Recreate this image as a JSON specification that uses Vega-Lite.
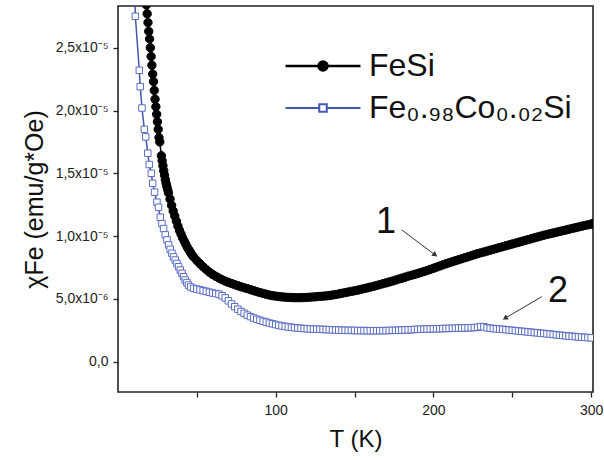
{
  "$schema": "https://vega.github.io/schema/vega-lite/v6.json",
  "width": 475,
  "height": 386,
  "autosize": "none",
  "padding": {"left": 118, "top": 6, "right": 11, "bottom": 68},
  "background": "white",
  "config": {"view": {"stroke": "#222", "strokeWidth": 1.6}, "font": "Liberation Sans"},
  "datasets": {
    "curves": [
      {"series":"FeSi","T":16,"chi":31.2},{"series":"FeSi","T":17,"chi":29.8},{"series":"FeSi","T":17.5,"chi":29.1},{"series":"FeSi","T":18,"chi":28.4},{"series":"FeSi","T":18.5,"chi":27.7},{"series":"FeSi","T":19,"chi":27.0},{"series":"FeSi","T":19.5,"chi":26.3},{"series":"FeSi","T":20,"chi":25.7},{"series":"FeSi","T":20.5,"chi":25.0},{"series":"FeSi","T":21,"chi":24.3},{"series":"FeSi","T":21.5,"chi":23.6},{"series":"FeSi","T":22,"chi":22.9},{"series":"FeSi","T":22.5,"chi":22.3},{"series":"FeSi","T":23,"chi":21.6},{"series":"FeSi","T":23.5,"chi":20.9},{"series":"FeSi","T":24,"chi":20.3},{"series":"FeSi","T":24.5,"chi":19.7},{"series":"FeSi","T":25,"chi":19.1},{"series":"FeSi","T":25.5,"chi":18.5},{"series":"FeSi","T":26,"chi":17.85},{"series":"FeSi","T":26.5,"chi":17.5},
      {"series":"FeSi","T":27.5,"chi":16.4},{"series":"FeSi","T":28,"chi":16.0},{"series":"FeSi","T":28.5,"chi":15.6},{"series":"FeSi","T":29,"chi":15.2},{"series":"FeSi","T":29.5,"chi":14.85},{"series":"FeSi","T":30,"chi":14.5},{"series":"FeSi","T":30.5,"chi":14.2},{"series":"FeSi","T":31,"chi":13.95},{"series":"FeSi","T":31.5,"chi":13.7},{"series":"FeSi","T":32,"chi":13.45},{"series":"FeSi","T":33,"chi":12.95},{"series":"FeSi","T":34,"chi":12.45},{"series":"FeSi","T":35,"chi":12.0},{"series":"FeSi","T":36,"chi":11.6},{"series":"FeSi","T":37,"chi":11.2},{"series":"FeSi","T":38,"chi":10.8},{"series":"FeSi","T":39,"chi":10.45},{"series":"FeSi","T":40,"chi":10.15},{"series":"FeSi","T":41,"chi":9.85},{"series":"FeSi","T":42,"chi":9.6},{"series":"FeSi","T":43,"chi":9.35},{"series":"FeSi","T":44,"chi":9.1},{"series":"FeSi","T":45,"chi":8.9},{"series":"FeSi","T":46,"chi":8.7},{"series":"FeSi","T":47,"chi":8.5},{"series":"FeSi","T":48,"chi":8.33},
      {"series":"FeSi","T":50,"chi":8.05},{"series":"FeSi","T":52,"chi":7.8},{"series":"FeSi","T":54,"chi":7.55},{"series":"FeSi","T":56,"chi":7.33},{"series":"FeSi","T":58,"chi":7.13},{"series":"FeSi","T":60,"chi":6.95},{"series":"FeSi","T":62,"chi":6.8},{"series":"FeSi","T":64,"chi":6.66},{"series":"FeSi","T":66,"chi":6.53},{"series":"FeSi","T":68,"chi":6.42},{"series":"FeSi","T":70,"chi":6.32},{"series":"FeSi","T":72,"chi":6.23},{"series":"FeSi","T":74,"chi":6.14},{"series":"FeSi","T":76,"chi":6.05},{"series":"FeSi","T":78,"chi":5.97},{"series":"FeSi","T":80,"chi":5.89},{"series":"FeSi","T":82,"chi":5.82},{"series":"FeSi","T":84,"chi":5.74},{"series":"FeSi","T":86,"chi":5.66},{"series":"FeSi","T":88,"chi":5.58},{"series":"FeSi","T":90,"chi":5.51},{"series":"FeSi","T":92,"chi":5.44},{"series":"FeSi","T":94,"chi":5.37},{"series":"FeSi","T":96,"chi":5.31},{"series":"FeSi","T":98,"chi":5.26},{"series":"FeSi","T":100,"chi":5.22},{"series":"FeSi","T":102,"chi":5.19},{"series":"FeSi","T":104,"chi":5.16},{"series":"FeSi","T":106,"chi":5.14},{"series":"FeSi","T":108,"chi":5.12},{"series":"FeSi","T":110,"chi":5.11},{"series":"FeSi","T":112,"chi":5.1},{"series":"FeSi","T":114,"chi":5.1},{"series":"FeSi","T":116,"chi":5.1},{"series":"FeSi","T":118,"chi":5.11},{"series":"FeSi","T":120,"chi":5.12},{"series":"FeSi","T":122,"chi":5.14},{"series":"FeSi","T":124,"chi":5.16},{"series":"FeSi","T":126,"chi":5.18},{"series":"FeSi","T":128,"chi":5.2},{"series":"FeSi","T":130,"chi":5.22},{"series":"FeSi","T":132,"chi":5.24},{"series":"FeSi","T":134,"chi":5.27},{"series":"FeSi","T":136,"chi":5.31},{"series":"FeSi","T":138,"chi":5.35},{"series":"FeSi","T":140,"chi":5.4},{"series":"FeSi","T":142,"chi":5.45},{"series":"FeSi","T":144,"chi":5.5},{"series":"FeSi","T":146,"chi":5.55},{"series":"FeSi","T":148,"chi":5.6},{"series":"FeSi","T":150,"chi":5.65},{"series":"FeSi","T":152,"chi":5.7},{"series":"FeSi","T":154,"chi":5.76},{"series":"FeSi","T":156,"chi":5.82},{"series":"FeSi","T":158,"chi":5.88},{"series":"FeSi","T":160,"chi":5.94},{"series":"FeSi","T":162,"chi":6.0},{"series":"FeSi","T":164,"chi":6.07},{"series":"FeSi","T":166,"chi":6.14},{"series":"FeSi","T":168,"chi":6.21},{"series":"FeSi","T":170,"chi":6.28},{"series":"FeSi","T":172,"chi":6.35},{"series":"FeSi","T":174,"chi":6.42},{"series":"FeSi","T":176,"chi":6.5},{"series":"FeSi","T":178,"chi":6.58},{"series":"FeSi","T":180,"chi":6.65},{"series":"FeSi","T":182,"chi":6.73},{"series":"FeSi","T":184,"chi":6.81},{"series":"FeSi","T":186,"chi":6.88},{"series":"FeSi","T":188,"chi":6.95},{"series":"FeSi","T":190,"chi":7.02},{"series":"FeSi","T":192,"chi":7.1},{"series":"FeSi","T":194,"chi":7.18},{"series":"FeSi","T":196,"chi":7.26},{"series":"FeSi","T":198,"chi":7.35},{"series":"FeSi","T":200,"chi":7.44},{"series":"FeSi","T":202,"chi":7.53},{"series":"FeSi","T":204,"chi":7.62},{"series":"FeSi","T":206,"chi":7.71},{"series":"FeSi","T":208,"chi":7.8},{"series":"FeSi","T":210,"chi":7.88},{"series":"FeSi","T":212,"chi":7.96},{"series":"FeSi","T":214,"chi":8.04},{"series":"FeSi","T":216,"chi":8.12},{"series":"FeSi","T":218,"chi":8.2},{"series":"FeSi","T":220,"chi":8.28},{"series":"FeSi","T":222,"chi":8.36},{"series":"FeSi","T":224,"chi":8.44},{"series":"FeSi","T":226,"chi":8.52},{"series":"FeSi","T":228,"chi":8.6},{"series":"FeSi","T":230,"chi":8.67},{"series":"FeSi","T":232,"chi":8.74},{"series":"FeSi","T":234,"chi":8.81},{"series":"FeSi","T":236,"chi":8.88},{"series":"FeSi","T":238,"chi":8.95},{"series":"FeSi","T":240,"chi":9.02},{"series":"FeSi","T":242,"chi":9.09},{"series":"FeSi","T":244,"chi":9.16},{"series":"FeSi","T":246,"chi":9.23},{"series":"FeSi","T":248,"chi":9.3},{"series":"FeSi","T":250,"chi":9.37},{"series":"FeSi","T":252,"chi":9.44},{"series":"FeSi","T":254,"chi":9.51},{"series":"FeSi","T":256,"chi":9.58},{"series":"FeSi","T":258,"chi":9.65},{"series":"FeSi","T":260,"chi":9.72},{"series":"FeSi","T":262,"chi":9.79},{"series":"FeSi","T":264,"chi":9.86},{"series":"FeSi","T":266,"chi":9.93},{"series":"FeSi","T":268,"chi":10.0},{"series":"FeSi","T":270,"chi":10.07},{"series":"FeSi","T":272,"chi":10.13},{"series":"FeSi","T":274,"chi":10.19},{"series":"FeSi","T":276,"chi":10.25},{"series":"FeSi","T":278,"chi":10.31},{"series":"FeSi","T":280,"chi":10.37},{"series":"FeSi","T":282,"chi":10.43},{"series":"FeSi","T":284,"chi":10.49},{"series":"FeSi","T":286,"chi":10.55},{"series":"FeSi","T":288,"chi":10.61},{"series":"FeSi","T":290,"chi":10.67},{"series":"FeSi","T":292,"chi":10.73},{"series":"FeSi","T":294,"chi":10.79},{"series":"FeSi","T":296,"chi":10.85},{"series":"FeSi","T":298,"chi":10.9},{"series":"FeSi","T":300,"chi":10.95},{"series":"FeSi","T":301,"chi":11.0},
      {"series":"Fe₀.₉₈Co₀.₀₂Si","T":10.5,"chi":31.0},{"series":"Fe₀.₉₈Co₀.₀₂Si","T":11.0,"chi":27.5},{"series":"Fe₀.₉₈Co₀.₀₂Si","T":13.5,"chi":23.2},{"series":"Fe₀.₉₈Co₀.₀₂Si","T":14.1,"chi":21.9},{"series":"Fe₀.₉₈Co₀.₀₂Si","T":15.2,"chi":20.2},{"series":"Fe₀.₉₈Co₀.₀₂Si","T":16.7,"chi":18.5},{"series":"Fe₀.₉₈Co₀.₀₂Si","T":17.6,"chi":17.9},{"series":"Fe₀.₉₈Co₀.₀₂Si","T":18.9,"chi":16.6},{"series":"Fe₀.₉₈Co₀.₀₂Si","T":19.8,"chi":15.7},{"series":"Fe₀.₉₈Co₀.₀₂Si","T":21.1,"chi":15.0},{"series":"Fe₀.₉₈Co₀.₀₂Si","T":22.0,"chi":14.2},{"series":"Fe₀.₉₈Co₀.₀₂Si","T":23.2,"chi":13.5},{"series":"Fe₀.₉₈Co₀.₀₂Si","T":24.7,"chi":12.7},{"series":"Fe₀.₉₈Co₀.₀₂Si","T":25.7,"chi":12.3},{"series":"Fe₀.₉₈Co₀.₀₂Si","T":26.8,"chi":11.5},{"series":"Fe₀.₉₈Co₀.₀₂Si","T":27.9,"chi":11.0},{"series":"Fe₀.₉₈Co₀.₀₂Si","T":28.9,"chi":10.6},{"series":"Fe₀.₉₈Co₀.₀₂Si","T":30.0,"chi":10.1},{"series":"Fe₀.₉₈Co₀.₀₂Si","T":31.1,"chi":9.7},{"series":"Fe₀.₉₈Co₀.₀₂Si","T":32.1,"chi":9.3},{"series":"Fe₀.₉₈Co₀.₀₂Si","T":33.1,"chi":8.95},{"series":"Fe₀.₉₈Co₀.₀₂Si","T":34.2,"chi":8.63},{"series":"Fe₀.₉₈Co₀.₀₂Si","T":35.2,"chi":8.35},{"series":"Fe₀.₉₈Co₀.₀₂Si","T":36.3,"chi":8.1},{"series":"Fe₀.₉₈Co₀.₀₂Si","T":37.4,"chi":7.82},{"series":"Fe₀.₉₈Co₀.₀₂Si","T":38.4,"chi":7.56},{"series":"Fe₀.₉₈Co₀.₀₂Si","T":39.5,"chi":7.3},{"series":"Fe₀.₉₈Co₀.₀₂Si","T":40.6,"chi":7.04},{"series":"Fe₀.₉₈Co₀.₀₂Si","T":41.6,"chi":6.77},{"series":"Fe₀.₉₈Co₀.₀₂Si","T":42.6,"chi":6.5},{"series":"Fe₀.₉₈Co₀.₀₂Si","T":43.7,"chi":6.3},{"series":"Fe₀.₉₈Co₀.₀₂Si","T":44.7,"chi":6.1},{"series":"Fe₀.₉₈Co₀.₀₂Si","T":46.1,"chi":5.95},{"series":"Fe₀.₉₈Co₀.₀₂Si","T":47.9,"chi":5.84},
      {"series":"Fe₀.₉₈Co₀.₀₂Si","T":50,"chi":5.78},{"series":"Fe₀.₉₈Co₀.₀₂Si","T":52,"chi":5.72},{"series":"Fe₀.₉₈Co₀.₀₂Si","T":54,"chi":5.66},{"series":"Fe₀.₉₈Co₀.₀₂Si","T":56,"chi":5.6},{"series":"Fe₀.₉₈Co₀.₀₂Si","T":58,"chi":5.53},{"series":"Fe₀.₉₈Co₀.₀₂Si","T":60,"chi":5.47},{"series":"Fe₀.₉₈Co₀.₀₂Si","T":62,"chi":5.43},{"series":"Fe₀.₉₈Co₀.₀₂Si","T":64,"chi":5.38},{"series":"Fe₀.₉₈Co₀.₀₂Si","T":66,"chi":5.25},{"series":"Fe₀.₉₈Co₀.₀₂Si","T":68,"chi":5.08},{"series":"Fe₀.₉₈Co₀.₀₂Si","T":70,"chi":4.85},{"series":"Fe₀.₉₈Co₀.₀₂Si","T":72,"chi":4.6},{"series":"Fe₀.₉₈Co₀.₀₂Si","T":74,"chi":4.38},{"series":"Fe₀.₉₈Co₀.₀₂Si","T":76,"chi":4.18},{"series":"Fe₀.₉₈Co₀.₀₂Si","T":78,"chi":4.0},{"series":"Fe₀.₉₈Co₀.₀₂Si","T":80,"chi":3.85},{"series":"Fe₀.₉₈Co₀.₀₂Si","T":82,"chi":3.71},{"series":"Fe₀.₉₈Co₀.₀₂Si","T":84,"chi":3.59},{"series":"Fe₀.₉₈Co₀.₀₂Si","T":86,"chi":3.48},{"series":"Fe₀.₉₈Co₀.₀₂Si","T":88,"chi":3.38},{"series":"Fe₀.₉₈Co₀.₀₂Si","T":90,"chi":3.3},{"series":"Fe₀.₉₈Co₀.₀₂Si","T":92,"chi":3.22},{"series":"Fe₀.₉₈Co₀.₀₂Si","T":94,"chi":3.15},{"series":"Fe₀.₉₈Co₀.₀₂Si","T":96,"chi":3.08},{"series":"Fe₀.₉₈Co₀.₀₂Si","T":98,"chi":3.02},{"series":"Fe₀.₉₈Co₀.₀₂Si","T":100,"chi":2.96},{"series":"Fe₀.₉₈Co₀.₀₂Si","T":102,"chi":2.9},{"series":"Fe₀.₉₈Co₀.₀₂Si","T":104,"chi":2.85},{"series":"Fe₀.₉₈Co₀.₀₂Si","T":106,"chi":2.81},{"series":"Fe₀.₉₈Co₀.₀₂Si","T":108,"chi":2.77},{"series":"Fe₀.₉₈Co₀.₀₂Si","T":110,"chi":2.74},{"series":"Fe₀.₉₈Co₀.₀₂Si","T":112,"chi":2.71},{"series":"Fe₀.₉₈Co₀.₀₂Si","T":114,"chi":2.68},{"series":"Fe₀.₉₈Co₀.₀₂Si","T":116,"chi":2.66},{"series":"Fe₀.₉₈Co₀.₀₂Si","T":118,"chi":2.64},{"series":"Fe₀.₉₈Co₀.₀₂Si","T":120,"chi":2.62},{"series":"Fe₀.₉₈Co₀.₀₂Si","T":122,"chi":2.61},{"series":"Fe₀.₉₈Co₀.₀₂Si","T":124,"chi":2.6},{"series":"Fe₀.₉₈Co₀.₀₂Si","T":126,"chi":2.59},{"series":"Fe₀.₉₈Co₀.₀₂Si","T":128,"chi":2.58},{"series":"Fe₀.₉₈Co₀.₀₂Si","T":130,"chi":2.57},{"series":"Fe₀.₉₈Co₀.₀₂Si","T":132,"chi":2.56},{"series":"Fe₀.₉₈Co₀.₀₂Si","T":134,"chi":2.55},{"series":"Fe₀.₉₈Co₀.₀₂Si","T":136,"chi":2.54},{"series":"Fe₀.₉₈Co₀.₀₂Si","T":138,"chi":2.53},{"series":"Fe₀.₉₈Co₀.₀₂Si","T":140,"chi":2.52},{"series":"Fe₀.₉₈Co₀.₀₂Si","T":142,"chi":2.51},{"series":"Fe₀.₉₈Co₀.₀₂Si","T":144,"chi":2.5},{"series":"Fe₀.₉₈Co₀.₀₂Si","T":146,"chi":2.5},{"series":"Fe₀.₉₈Co₀.₀₂Si","T":148,"chi":2.49},{"series":"Fe₀.₉₈Co₀.₀₂Si","T":150,"chi":2.49},{"series":"Fe₀.₉₈Co₀.₀₂Si","T":152,"chi":2.48},{"series":"Fe₀.₉₈Co₀.₀₂Si","T":154,"chi":2.48},{"series":"Fe₀.₉₈Co₀.₀₂Si","T":156,"chi":2.48},{"series":"Fe₀.₉₈Co₀.₀₂Si","T":158,"chi":2.47},{"series":"Fe₀.₉₈Co₀.₀₂Si","T":160,"chi":2.47},{"series":"Fe₀.₉₈Co₀.₀₂Si","T":162,"chi":2.47},{"series":"Fe₀.₉₈Co₀.₀₂Si","T":164,"chi":2.47},{"series":"Fe₀.₉₈Co₀.₀₂Si","T":166,"chi":2.47},{"series":"Fe₀.₉₈Co₀.₀₂Si","T":168,"chi":2.48},{"series":"Fe₀.₉₈Co₀.₀₂Si","T":170,"chi":2.48},{"series":"Fe₀.₉₈Co₀.₀₂Si","T":172,"chi":2.49},{"series":"Fe₀.₉₈Co₀.₀₂Si","T":174,"chi":2.5},{"series":"Fe₀.₉₈Co₀.₀₂Si","T":176,"chi":2.5},{"series":"Fe₀.₉₈Co₀.₀₂Si","T":178,"chi":2.51},{"series":"Fe₀.₉₈Co₀.₀₂Si","T":180,"chi":2.52},{"series":"Fe₀.₉₈Co₀.₀₂Si","T":182,"chi":2.53},{"series":"Fe₀.₉₈Co₀.₀₂Si","T":184,"chi":2.54},{"series":"Fe₀.₉₈Co₀.₀₂Si","T":186,"chi":2.55},{"series":"Fe₀.₉₈Co₀.₀₂Si","T":188,"chi":2.57},{"series":"Fe₀.₉₈Co₀.₀₂Si","T":190,"chi":2.58},{"series":"Fe₀.₉₈Co₀.₀₂Si","T":192,"chi":2.59},{"series":"Fe₀.₉₈Co₀.₀₂Si","T":194,"chi":2.6},{"series":"Fe₀.₉₈Co₀.₀₂Si","T":196,"chi":2.6},{"series":"Fe₀.₉₈Co₀.₀₂Si","T":198,"chi":2.61},{"series":"Fe₀.₉₈Co₀.₀₂Si","T":200,"chi":2.62},{"series":"Fe₀.₉₈Co₀.₀₂Si","T":202,"chi":2.62},{"series":"Fe₀.₉₈Co₀.₀₂Si","T":204,"chi":2.63},{"series":"Fe₀.₉₈Co₀.₀₂Si","T":206,"chi":2.64},{"series":"Fe₀.₉₈Co₀.₀₂Si","T":208,"chi":2.65},{"series":"Fe₀.₉₈Co₀.₀₂Si","T":210,"chi":2.65},{"series":"Fe₀.₉₈Co₀.₀₂Si","T":212,"chi":2.66},{"series":"Fe₀.₉₈Co₀.₀₂Si","T":214,"chi":2.67},{"series":"Fe₀.₉₈Co₀.₀₂Si","T":216,"chi":2.68},{"series":"Fe₀.₉₈Co₀.₀₂Si","T":218,"chi":2.68},{"series":"Fe₀.₉₈Co₀.₀₂Si","T":220,"chi":2.69},{"series":"Fe₀.₉₈Co₀.₀₂Si","T":222,"chi":2.7},{"series":"Fe₀.₉₈Co₀.₀₂Si","T":224,"chi":2.71},{"series":"Fe₀.₉₈Co₀.₀₂Si","T":226,"chi":2.72},{"series":"Fe₀.₉₈Co₀.₀₂Si","T":228,"chi":2.74},{"series":"Fe₀.₉₈Co₀.₀₂Si","T":230,"chi":2.8},{"series":"Fe₀.₉₈Co₀.₀₂Si","T":232,"chi":2.78},{"series":"Fe₀.₉₈Co₀.₀₂Si","T":234,"chi":2.7},{"series":"Fe₀.₉₈Co₀.₀₂Si","T":236,"chi":2.67},{"series":"Fe₀.₉₈Co₀.₀₂Si","T":238,"chi":2.64},{"series":"Fe₀.₉₈Co₀.₀₂Si","T":240,"chi":2.62},{"series":"Fe₀.₉₈Co₀.₀₂Si","T":242,"chi":2.6},{"series":"Fe₀.₉₈Co₀.₀₂Si","T":244,"chi":2.58},{"series":"Fe₀.₉₈Co₀.₀₂Si","T":246,"chi":2.55},{"series":"Fe₀.₉₈Co₀.₀₂Si","T":248,"chi":2.52},{"series":"Fe₀.₉₈Co₀.₀₂Si","T":250,"chi":2.5},{"series":"Fe₀.₉₈Co₀.₀₂Si","T":252,"chi":2.47},{"series":"Fe₀.₉₈Co₀.₀₂Si","T":254,"chi":2.45},{"series":"Fe₀.₉₈Co₀.₀₂Si","T":256,"chi":2.42},{"series":"Fe₀.₉₈Co₀.₀₂Si","T":258,"chi":2.4},{"series":"Fe₀.₉₈Co₀.₀₂Si","T":260,"chi":2.37},{"series":"Fe₀.₉₈Co₀.₀₂Si","T":262,"chi":2.35},{"series":"Fe₀.₉₈Co₀.₀₂Si","T":264,"chi":2.32},{"series":"Fe₀.₉₈Co₀.₀₂Si","T":266,"chi":2.3},{"series":"Fe₀.₉₈Co₀.₀₂Si","T":268,"chi":2.27},{"series":"Fe₀.₉₈Co₀.₀₂Si","T":270,"chi":2.25},{"series":"Fe₀.₉₈Co₀.₀₂Si","T":272,"chi":2.22},{"series":"Fe₀.₉₈Co₀.₀₂Si","T":274,"chi":2.2},{"series":"Fe₀.₉₈Co₀.₀₂Si","T":276,"chi":2.17},{"series":"Fe₀.₉₈Co₀.₀₂Si","T":278,"chi":2.14},{"series":"Fe₀.₉₈Co₀.₀₂Si","T":280,"chi":2.11},{"series":"Fe₀.₉₈Co₀.₀₂Si","T":282,"chi":2.09},{"series":"Fe₀.₉₈Co₀.₀₂Si","T":284,"chi":2.06},{"series":"Fe₀.₉₈Co₀.₀₂Si","T":286,"chi":2.04},{"series":"Fe₀.₉₈Co₀.₀₂Si","T":288,"chi":2.02},{"series":"Fe₀.₉₈Co₀.₀₂Si","T":290,"chi":2.0},{"series":"Fe₀.₉₈Co₀.₀₂Si","T":292,"chi":1.98},{"series":"Fe₀.₉₈Co₀.₀₂Si","T":294,"chi":1.96},{"series":"Fe₀.₉₈Co₀.₀₂Si","T":296,"chi":1.94},{"series":"Fe₀.₉₈Co₀.₀₂Si","T":298,"chi":1.92},{"series":"Fe₀.₉₈Co₀.₀₂Si","T":300,"chi":1.9}
    ],
    "notes": [
      {"label": "1", "T": 170, "chi": 11.12},
      {"label": "2", "T": 279, "chi": 5.63}
    ],
    "arrows": [
      {"id": 1, "T": 180, "chi": 10.49, "T2": 201.1, "chi2": 8.5},
      {"id": 2, "T": 268.7, "chi": 5.18, "T2": 245.4, "chi2": 3.46}
    ]
  },
  "layer": [
    {
      "data": {"name": "curves"},
      "mark": {"type": "line", "strokeWidth": 1.5, "clip": true},
      "encoding": {
        "x": {
          "field": "T", "type": "quantitative",
          "scale": {"domain": [0, 301.2], "nice": false, "zero": false},
          "axis": {
            "title": "T (K)", "values": [50, 100, 150, 200, 250, 300],
            "labelExpr": "datum.value % 100 === 0 ? datum.label : ''",
            "grid": false, "domain": false, "tickSize": 5, "tickColor": "#222", "tickWidth": 1.3,
            "labelFontSize": 14, "labelColor": "#222", "labelPadding": 6, "labelFlush": false,
            "titleFontSize": 24, "titleFontWeight": "normal", "titleColor": "#111", "titlePadding": 10
          }
        },
        "y": {
          "field": "chi", "type": "quantitative",
          "scale": {"domain": [-2.41, 28.32], "nice": false, "zero": false},
          "axis": {
            "title": "χFe (emu/g*Oe)",
            "values": [0, 2.5, 5, 7.5, 10, 12.5, 15, 17.5, 20, 22.5, 25, 27.5],
            "labelExpr": "datum.value % 5 !== 0 ? '' : datum.value === 0 ? '0,0' : datum.value < 10 ? replace(format(datum.value, '.1f'), '.', ',') + 'x10⁻⁶' : replace(format(datum.value / 10, '.1f'), '.', ',') + 'x10⁻⁵'",
            "grid": false, "domain": false, "tickSize": 5, "tickColor": "#222", "tickWidth": 1.3,
            "labelFontSize": 14, "labelColor": "#222", "labelPadding": 5,
            "titleFontSize": 25, "titleFontWeight": "normal", "titleColor": "#111", "titlePadding": 8
          }
        },
        "color": {
          "field": "series", "type": "nominal",
          "scale": {"domain": ["FeSi", "Fe₀.₉₈Co₀.₀₂Si"], "range": ["#000000", "#4457b0"]},
          "legend": {
            "orient": "none", "legendX": 189, "legendY": 44, "title": null,
            "labelFontSize": 32, "labelColor": "#111", "labelFont": "Liberation Sans", "labelLimit": 400,
            "symbolSize": 900, "labelOffset": 30, "rowPadding": 10, "padding": 0,
            "symbolType": "M-2.5,0H2.5",
            "encode": {
              "symbols": {
                "update": {
                  "shape": {"signal": "datum.value === 'FeSi' ? 'M-2.5,0H2.5M0.3,0A0.3,0.3,0,1,1,-0.3,0A0.3,0.3,0,1,1,0.3,0Z' : 'M-2.5,0H-0.25M0.25,0H2.5M-0.25,-0.25H0.25V0.25H-0.25Z'"},
                  "fill": {"signal": "datum.value === 'FeSi' ? '#000000' : '#ffffff'"},
                  "stroke": {"signal": "datum.value === 'FeSi' ? '#000000' : '#4457b0'"},
                  "strokeWidth": {"signal": "datum.value === 'FeSi' ? 2.5 : 2"},
                  "opacity": {"value": 1}
                }
              }
            }
          }
        }
      }
    },
    {
      "data": {"name": "curves"},
      "transform": [{"filter": "datum.series === 'FeSi'"}],
      "mark": {"type": "point", "shape": "circle", "filled": true, "fill": "#000000", "stroke": "#000000", "clip": true, "strokeWidth": 1, "size": 70, "opacity": 1},
      "encoding": {
        "x": {"field": "T", "type": "quantitative"},
        "y": {"field": "chi", "type": "quantitative"}
      }
    },
    {
      "data": {"name": "curves"},
      "transform": [{"filter": "datum.series !== 'FeSi'"}],
      "mark": {"type": "point", "shape": "square", "filled": true, "fill": "#ffffff", "stroke": "#5a6cc4", "clip": true, "strokeWidth": 1, "size": 42, "opacity": 1},
      "encoding": {
        "x": {"field": "T", "type": "quantitative"},
        "y": {"field": "chi", "type": "quantitative"}
      }
    },
    {
      "data": {"name": "arrows"},
      "mark": {"type": "rule", "color": "#333", "strokeWidth": 1},
      "encoding": {
        "x": {"field": "T", "type": "quantitative"},
        "y": {"field": "chi", "type": "quantitative"},
        "x2": {"field": "T2"},
        "y2": {"field": "chi2"}
      }
    },
    {
      "data": {"name": "arrows"},
      "transform": [{"filter": "datum.id === 1"}],
      "mark": {"type": "point", "shape": "triangle-right", "filled": true, "color": "#333", "size": 35, "angle": 37, "opacity": 1},
      "encoding": {
        "x": {"field": "T2", "type": "quantitative"},
        "y": {"field": "chi2", "type": "quantitative"}
      }
    },
    {
      "data": {"name": "arrows"},
      "transform": [{"filter": "datum.id === 2"}],
      "mark": {"type": "point", "shape": "triangle-right", "filled": true, "color": "#333", "size": 35, "angle": 149.5, "opacity": 1},
      "encoding": {
        "x": {"field": "T2", "type": "quantitative"},
        "y": {"field": "chi2", "type": "quantitative"}
      }
    },
    {
      "data": {"name": "notes"},
      "mark": {"type": "text", "fontSize": 36, "align": "center", "baseline": "middle", "color": "#111", "font": "Liberation Sans"},
      "encoding": {
        "x": {"field": "T", "type": "quantitative"},
        "y": {"field": "chi", "type": "quantitative"},
        "text": {"field": "label"}
      }
    }
  ]
}
